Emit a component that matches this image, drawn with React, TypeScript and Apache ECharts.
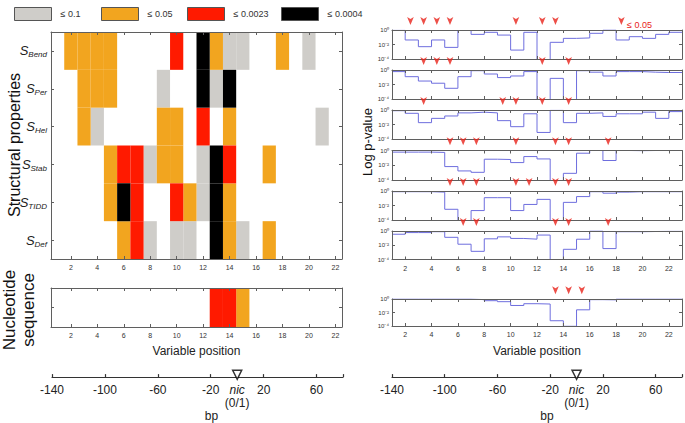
import React, { useEffect, useRef } from 'react';
import * as echarts from 'echarts';

// ---------------- data ----------------
const positions = [1, 2, 3, 4, 5, 6, 7, 8, 9, 10, 11, 12, 13, 14, 15, 16, 17, 18, 19, 20, 21, 22];
const positionTicks = [2, 4, 6, 8, 10, 12, 14, 16, 18, 20, 22];
const propertyNames = ['Bend', 'Per', 'Hel', 'Stab', 'TIDD', 'Def'];
const levelNames = ['≤ 0.1', '≤ 0.05', '≤ 0.0023', '≤ 0.0004'];

// significance level per position: 0 none, 1 ≤0.1, 2 ≤0.05, 3 ≤0.0023, 4 ≤0.0004
const levelsBend = [0, 2, 2, 2, 2, 0, 0, 0, 0, 3, 0, 4, 2, 1, 1, 0, 0, 2, 0, 1, 0, 0];
const levelsPer = [0, 0, 2, 2, 2, 0, 0, 0, 1, 0, 0, 4, 1, 4, 0, 0, 0, 0, 0, 0, 0, 0];
const levelsHel = [0, 0, 2, 1, 0, 0, 0, 0, 2, 2, 0, 3, 0, 2, 0, 0, 0, 0, 0, 0, 1, 0];
const levelsStab = [0, 0, 0, 0, 2, 3, 3, 1, 2, 2, 0, 1, 4, 3, 0, 0, 2, 0, 0, 0, 0, 0];
const levelsTIDD = [0, 0, 0, 0, 2, 4, 3, 0, 0, 3, 2, 1, 4, 2, 0, 0, 0, 0, 0, 0, 0, 0];
const levelsDef = [0, 0, 0, 0, 0, 2, 3, 1, 0, 1, 1, 0, 4, 2, 1, 0, 2, 0, 0, 0, 0, 0];
const levelsNucleotide = [0, 0, 0, 0, 0, 0, 0, 0, 0, 0, 0, 0, 3, 3, 2, 0, 0, 0, 0, 0, 0, 0];

// p-values per position (right panels)
const pBend = [0.9, 0.042, 0.005, 0.042, 0.004, 0.85, 0.25, 0.48, 0.2, 0.0017, 0.48, 0.00001, 0.02, 0.07, 0.08, 0.35, 1, 0.042, 0.12, 0.07, 0.25, 0.48];
const pPer = [0.6, 0.12, 0.03, 0.015, 0.003, 0.12, 0.8, 0.28, 0.09, 0.15, 0.6, 0.00001, 0.07, 0.00001, 0.8, 0.5, 0.15, 0.6, 0.6, 0.5, 0.45, 0.45];
const pHel = [0.8, 0.35, 0.018, 0.07, 0.15, 0.4, 0.5, 0.4, 0.034, 0.005, 0.3, 0.0008, 0.9, 0.018, 0.35, 0.4, 0.13, 0.3, 0.3, 0.5, 0.07, 0.6];
const pStab = [0.6, 0.6, 0.6, 0.55, 0.0066, 0.0017, 0.0011, 0.066, 0.06, 0.023, 0.15, 0.072, 0.00001, 0.0008, 0.43, 1, 0.044, 1, 0.95, 1, 1, 1];
const pTIDD = [0.8, 0.8, 0.8, 0.7, 0.003, 0.00005, 0.002, 0.12, 0.12, 0.002, 0.014, 0.07, 0.00001, 0.027, 0.17, 0.8, 0.5, 0.7, 0.8, 0.8, 0.8, 0.8];
const pDef = [0.35, 0.6, 0.6, 0.8, 0.13, 0.014, 0.0014, 0.08, 0.15, 0.09, 0.072, 0.27, 0.00001, 0.0027, 0.07, 1, 0.0034, 0.8, 0.8, 0.85, 0.9, 0.9];
const pNucleotide = [1, 1, 1, 1, 1, 1, 0.8, 0.56, 0.4, 0.11, 0.2, 0.18, 0.0006, 0.00009, 0.025, 0.8, 0.75, 1, 1, 1, 1, 1];

const markerThreshold = 0.05;
const bpTickLabels = [-140, -100, -60, -20, 20, 60];
const bpMin = -140;
const bpMax = 80;
const nicPosition = 0;

// ---------------- styling ----------------
const FONT = '"Liberation Sans", Arial, Helvetica, sans-serif';
const AXIS_COLOR = '#5f5f5f';
const LABEL_COLOR = '#333';
const LEVEL_COLORS = ['#cfcdc9', '#f2a51f', '#ff1a00', '#000000'];
const LINE_COLOR = '#6e6ede';
const MARK_COLOR = '#e8231a';

const SUP: Record<string, string> = { '0': '⁰', '1': '¹', '2': '²', '3': '³', '4': '⁴', '-': '⁻' };
const toSup = (n: number) => String(n).split('').map((c) => SUP[c] || c).join('');

function buildOption() {
  const grid: any[] = [];
  const xAxis: any[] = [];
  const yAxis: any[] = [];
  const series: any[] = [];
  const graphic: any[] = [];

  const axisLine = { show: true, onZero: false, lineStyle: { color: AXIS_COLOR, width: 1 } };

  function addGrid(g: any) {
    grid.push(g);
    return grid.length - 1;
  }
  function addXPair(gridIndex: number, min: number, max: number, showLabels: boolean, extra: any = {}) {
    const base = {
      gridIndex, type: 'value', min, max, splitLine: { show: false }, axisLine, z: 5,
      axisTick: { show: true, inside: true, length: 3, customValues: positionTicks, lineStyle: { color: AXIS_COLOR } },
      axisLabel: { show: showLabels, customValues: positionTicks, fontSize: 7, color: LABEL_COLOR, margin: 5, fontFamily: FONT },
    };
    xAxis.push({ ...base, position: 'bottom', ...extra });
    const idx = xAxis.length - 1;
    xAxis.push({ ...base, position: 'top', axisLabel: { show: false } });
    return idx;
  }
  function addYPair(gridIndex: number, left: any) {
    yAxis.push({ gridIndex, position: 'left', splitLine: { show: false }, axisLine, z: 5, ...left });
    const idx = yAxis.length - 1;
    yAxis.push({ gridIndex, position: 'right', splitLine: { show: false }, axisLine, z: 5, ...left, axisLabel: { show: false } });
    return idx;
  }

  // ----- left heatmap -----
  const heatRows = [levelsBend, levelsPer, levelsHel, levelsStab, levelsTIDD, levelsDef];
  const rowIdx = propertyNames.map((_, i) => i);
  const gHeat = addGrid({ left: 51, top: 32, width: 291, height: 227 });
  const xHeat = addXPair(gHeat, 0.5, 22.5, true);
  const yHeat = addYPair(gHeat, {
    type: 'value', min: -0.5, max: 5.5, inverse: true,
    axisTick: { show: true, inside: true, length: 3, customValues: rowIdx, lineStyle: { color: AXIS_COLOR } },
    axisLabel: {
      show: true, customValues: rowIdx, margin: 4,
      formatter: (v: number) => `{s|S}{b|${propertyNames[Math.round(v)]}}`,
      rich: {
        s: { fontSize: 13, fontStyle: 'italic', fontFamily: FONT, color: '#222' },
        b: { fontSize: 8, fontStyle: 'italic', fontFamily: FONT, color: '#222', padding: [8, 0, 0, 0] },
      },
    },
  });

  const gNuc = addGrid({ left: 51, top: 288, width: 291, height: 39 });
  const xNuc = addXPair(gNuc, 0.5, 22.5, true, {
    name: 'Variable position', nameLocation: 'middle', nameGap: 18,
    nameTextStyle: { fontSize: 12, fontFamily: FONT, color: '#222' },
  });
  const yNuc = addYPair(gNuc, {
    type: 'value', min: -0.5, max: 0.5,
    axisTick: { show: true, inside: true, length: 3, customValues: [0], lineStyle: { color: AXIS_COLOR } },
    axisLabel: { show: false },
  });

  const renderCell = (color: string) => (params: any, api: any) => {
    const x = api.value(0);
    const y = api.value(1);
    const p0 = api.coord([x - 0.5, y - 0.5]);
    const p1 = api.coord([x + 0.5, y + 0.5]);
    return {
      type: 'rect',
      shape: { x: Math.min(p0[0], p1[0]), y: Math.min(p0[1], p1[1]), width: Math.abs(p1[0] - p0[0]), height: Math.abs(p1[1] - p0[1]) },
      style: { fill: color },
    };
  };

  levelNames.forEach((name, li) => {
    const level = li + 1;
    const heatData: number[][] = [];
    heatRows.forEach((row, r) => row.forEach((lv, c) => { if (lv === level) heatData.push([positions[c], r]); }));
    series.push({
      type: 'custom', name, xAxisIndex: xHeat, yAxisIndex: yHeat, renderItem: renderCell(LEVEL_COLORS[li]),
      itemStyle: { color: LEVEL_COLORS[li] }, data: heatData, z: 1, silent: true,
    });
    const nucData: number[][] = [];
    levelsNucleotide.forEach((lv, c) => { if (lv === level) nucData.push([positions[c], 0]); });
    series.push({
      type: 'custom', name, xAxisIndex: xNuc, yAxisIndex: yNuc, renderItem: renderCell(LEVEL_COLORS[li]),
      itemStyle: { color: LEVEL_COLORS[li] }, data: nucData, z: 1, silent: true,
    });
  });

  // ----- right p-value panels -----
  const pSets = [pBend, pPer, pHel, pStab, pTIDD, pDef, pNucleotide];
  const panelTops = [30, 70, 110, 150.5, 191, 231, 299];
  const panelHeights = [29, 29, 29, 29.5, 29, 28.5, 27];
  pSets.forEach((p, k) => {
    const isNuc = k === 6;
    const g = addGrid({ left: 392, top: panelTops[k], width: 290, height: panelHeights[k] });
    const showX = k >= 5;
    const xi = addXPair(g, 1, 23, showX, isNuc ? {
      name: 'Variable position', nameLocation: 'middle', nameGap: 19,
      nameTextStyle: { fontSize: 12, fontFamily: FONT, color: '#222' },
    } : {});
    const yi = addYPair(g, {
      type: 'log', logBase: 10, min: 0.0001, max: 1, interval: 2,
      axisTick: { show: true, inside: true, length: 3, lineStyle: { color: AXIS_COLOR } },
      axisLabel: {
        show: true, fontSize: 6, color: LABEL_COLOR, margin: 3, fontFamily: FONT,
        formatter: (v: number) => '10' + toSup(Math.round(Math.log10(v))),
      },
    });
    const lineData = positions.map((x, i) => [x, p[i]]);
    lineData.push([positions[positions.length - 1] + 1, p[p.length - 1]]);
    series.push({
      type: 'line', xAxisIndex: xi, yAxisIndex: yi, step: 'end', data: lineData, symbol: 'none',
      lineStyle: { color: LINE_COLOR, width: 1 }, clip: true, silent: true, z: 2,
    });
    const marks = positions.filter((_, i) => p[i] <= markerThreshold).map((x) => [x + 0.4, 5]);
    series.push({
      type: 'scatter', xAxisIndex: xi, yAxisIndex: yi, data: marks, symbol: 'arrow', symbolRotate: 180,
      symbolSize: [5, 8], itemStyle: { color: MARK_COLOR }, clip: false, silent: true, z: 6,
    });
  });

  // ----- bp axes -----
  const bpTicks = [...bpTickLabels, bpMax];
  const bpLabelValues = [...bpTickLabels, nicPosition].sort((a, b) => a - b);
  [{ left: 52, width: 291, pad: 28 }, { left: 392, width: 290, pad: 20 }].forEach((cfg) => {
    const g = addGrid({ left: cfg.left, top: 370, width: cfg.width, height: 13 });
    xAxis.push({
      gridIndex: g, type: 'value', min: bpMin, max: bpMax, position: 'bottom', splitLine: { show: false },
      axisLine: { show: true, onZero: false, lineStyle: { color: '#333', width: 1.2 } },
      axisTick: { show: true, inside: true, length: 3, customValues: bpTicks, lineStyle: { color: '#333', width: 1.2 } },
      axisLabel: {
        show: true, customValues: bpLabelValues, margin: 6, fontSize: 12, fontFamily: FONT, color: '#222', lineHeight: 13,
        formatter: (v: number) => (v === nicPosition ? '{i|nic}\n{n|(0/1)}' : String(v)),
        rich: {
          i: { fontStyle: 'italic', fontSize: 12, fontFamily: FONT, color: '#222', lineHeight: 13 },
          n: { fontSize: 12, fontFamily: FONT, color: '#222', lineHeight: 13 },
        },
      },
      name: 'bp', nameLocation: 'middle', nameGap: 29,
      nameTextStyle: { fontSize: 12, fontFamily: FONT, color: '#222', padding: [0, 0, 0, cfg.pad] },
    });
    const xi = xAxis.length - 1;
    yAxis.push({ gridIndex: g, type: 'value', min: 0, max: 1, show: false });
    const yi = yAxis.length - 1;
    series.push({
      type: 'scatter', xAxisIndex: xi, yAxisIndex: yi, data: [[nicPosition, 0.33]], symbol: 'triangle', symbolRotate: 180,
      symbolSize: [9, 9], itemStyle: { color: '#fff', borderColor: '#000', borderWidth: 1.5 }, clip: false, silent: true,
    });
  });

  // ----- titles -----
  graphic.push(
    { type: 'text', x: 14, y: 145, rotation: Math.PI / 2, style: { text: 'Structural properties', fontSize: 16, fontFamily: FONT, fill: '#111', textAlign: 'center', textVerticalAlign: 'middle', align: 'center', verticalAlign: 'middle' } },
    { type: 'text', x: 19, y: 310, rotation: Math.PI / 2, style: { text: 'Nucleotide\nsequence', fontSize: 17, lineHeight: 19, fontFamily: FONT, fill: '#111', textAlign: 'center', textVerticalAlign: 'middle', align: 'center', verticalAlign: 'middle' } },
    { type: 'text', x: 367, y: 142, rotation: Math.PI / 2, style: { text: 'Log p-value', fontSize: 13, fontFamily: FONT, fill: '#111', textAlign: 'center', textVerticalAlign: 'middle', align: 'center', verticalAlign: 'middle' } },
    { type: 'text', x: 627, y: 25, style: { text: '≤ 0.05', fontSize: 9, fontFamily: FONT, fill: MARK_COLOR, textVerticalAlign: 'middle', verticalAlign: 'middle' } },
  );

  const legendLefts = [9, 96, 182, 276];
  const legend = levelNames.map((name, i) => ({
    data: [{ name, itemStyle: { borderColor: '#555', borderWidth: 1 } }],
    left: legendLefts[i], top: 2, itemWidth: 37, itemHeight: 13, icon: 'rect', selectedMode: false,
    textStyle: { fontSize: 9, fontFamily: FONT, color: '#333', padding: [0, 0, 0, 4] },
  }));

  return {
    animation: false,
    backgroundColor: '#ffffff',
    textStyle: { fontFamily: FONT },
    legend, grid, xAxis, yAxis, series, graphic,
  };
}

export default function App() {
  const ref = useRef<HTMLDivElement>(null);
  useEffect(() => {
    if (!ref.current) return;
    const chart = echarts.init(ref.current, null, { renderer: 'svg' });
    chart.setOption(buildOption() as any);
    return () => chart.dispose();
  }, []);
  return <div ref={ref} style={{ position: 'absolute', left: 0, top: 0, width: 685, height: 423, background: '#fff' }} />;
}
